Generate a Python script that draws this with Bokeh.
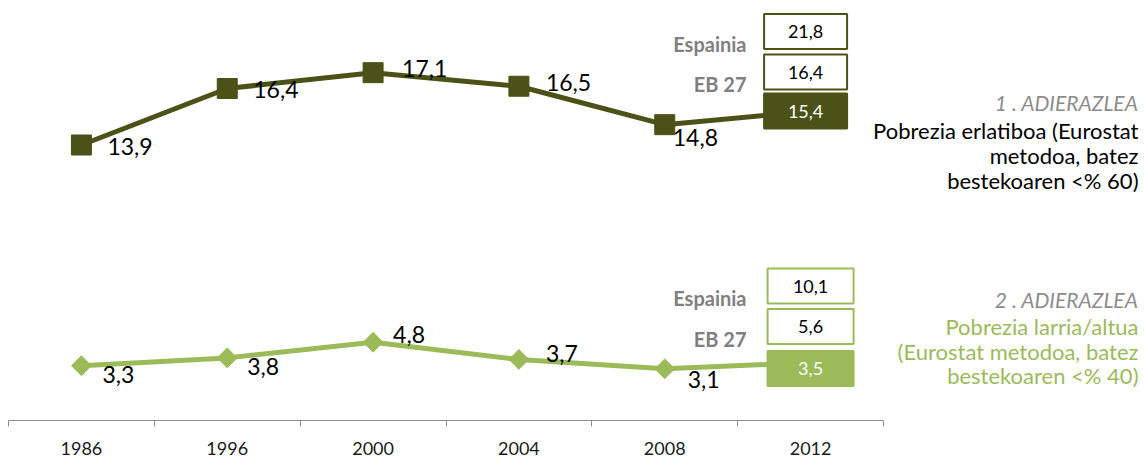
from bokeh.plotting import figure
from bokeh.models import Range1d, FixedTicker, ColumnDataSource
from bokeh.core.properties import value
from bokeh.embed import file_html
from bokeh.resources import INLINE
import math

# ---------------- data ----------------
years = ["1986", "1996", "2000", "2004", "2008", "2012"]
relative_poverty = [13.9, 16.4, 17.1, 16.5, 14.8, 15.4]   # 1. adierazlea
severe_poverty = [3.3, 3.8, 4.8, 3.7, 3.1, 3.5]           # 2. adierazlea
spain_2012 = [21.8, 10.1]      # Espainia (ind.1, ind.2)
eu27_2012 = [16.4, 5.6]        # EB 27 (ind.1, ind.2)
box_row_names = ["Espainia", "EB 27"]
indicator_titles = ["1 . ADIERAZLEA", "2 . ADIERAZLEA"]
indicator_texts = [
    ["Pobrezia erlatiboa (Eurostat", "metodoa, batez", "bestekoaren <% 60)"],
    ["Pobrezia larria/altua", "(Eurostat metodoa, batez", "bestekoaren <% 40)"],
]

def fmt(v):
    return f"{v:.1f}".replace(".", ",")

# ---------------- styles / layout ----------------
DARK = "#4A5218"
LIGHT = "#9BBB59"
GRAY = "#808080"
FONT = "Lato"

W, H = 1143, 460
FRAME_LEFT, FRAME_TOP, FRAME_H = 8, 8, 412
FRAME_BOTTOM = FRAME_TOP + FRAME_H
AXIS_W = 875                       # width of the category axis
PX_X = AXIS_W / len(years)
FRAME_W = W - FRAME_LEFT

y_low = Range1d(-0.20, 26.12)
y_top = Range1d(1.71, 19.94)

p = figure(width=W, height=H, output_backend="svg", toolbar_location=None,
           x_range=Range1d(0, FRAME_W / PX_X), y_range=y_low,
           min_border_left=FRAME_LEFT, min_border_right=0,
           min_border_top=FRAME_TOP, min_border_bottom=H - FRAME_BOTTOM,
           x_axis_location="below", y_axis_location=None)
p.extra_y_ranges = {"top": y_top}
p.outline_line_color = None
p.xgrid.visible = False
p.ygrid.visible = False

xs = [i + 0.5 for i in range(len(years))]

# axis: labels at category centres, tick marks at category boundaries
ax = p.xaxis[0]
ax.bounds = (0, len(years))
ax.ticker = FixedTicker(ticks=xs, minor_ticks=list(range(len(years) + 1)))
ax.major_label_overrides = {x: y for x, y in zip(xs, years)}
ax.major_tick_in = 0
ax.major_tick_out = 0
ax.minor_tick_in = 0
ax.minor_tick_out = 6
ax.minor_tick_line_color = "#8C8C8C"
ax.axis_line_color = "#8C8C8C"
ax.axis_line_width = 1.2
ax.major_label_text_font = FONT
ax.major_label_text_font_size = "18px"
ax.major_label_text_color = "#1a1a1a"
ax.major_label_standoff = 15


def page_to_y(rng, page_y):
    return rng.start + (FRAME_BOTTOM - page_y) / FRAME_H * (rng.end - rng.start)


def shift_y(rng, yv, px_up):
    return yv + px_up * (rng.end - rng.start) / FRAME_H


def page_to_x(page_x):
    return (page_x - FRAME_LEFT) / PX_X


# ---------------- lines ----------------
src_top = ColumnDataSource(dict(x=xs, y=relative_poverty,
                                lab=[fmt(v) for v in relative_poverty],
                                dx=[26, 26, 29, 27, 8, 0], dy=[1, 1, -4, -4, 13, 0]))
src_low = ColumnDataSource(dict(x=xs, y=severe_poverty,
                                lab=[fmt(v) for v in severe_poverty],
                                dx=[21, 20, 20, 27, 23, 0], dy=[9, 9, -8, -6, 11, 0]))

p.line("x", "y", source=src_top, y_range_name="top", line_color=DARK, line_width=5)
p.scatter("x", "y", source=src_top, y_range_name="top", marker="square", size=20,
          fill_color=DARK, line_color=DARK)
p.line("x", "y", source=src_low, line_color=LIGHT, line_width=5)
p.scatter("x", "y", source=src_low, marker="square", size=14, angle=math.pi / 4,
          fill_color=LIGHT, line_color=LIGHT)

# data labels (except last, shown in box)
n = len(years) - 1
lab_top = ColumnDataSource({k: v[:n] for k, v in src_top.data.items()})
lab_low = ColumnDataSource({k: v[:n] for k, v in src_low.data.items()})
for s, rn in ((lab_top, "top"), (lab_low, "default")):
    p.text("x", "y", text="lab", source=s, y_range_name=rn, x_offset="dx", y_offset="dy",
           text_font=value(FONT), text_font_size="23px", text_color="black",
           text_align="left", text_baseline="middle")

# ---------------- boxes for 2012 ----------------
last_x = xs[-1]
configs = [
    ("top", y_top, DARK, relative_poverty[-1], spain_2012[0], eu27_2012[0], 83, -5, (0, 39, 79.5)),
    ("default", y_low, LIGHT, severe_poverty[-1], spain_2012[1], eu27_2012[1], 86, 0, (-6, 36, 76.5)),
]
for rname, rng, col, last, spain, eu, bw, xs_px, (s_fill, s_eu, s_sp) in configs:
    bx = last_x + xs_px / PX_X
    ys = [shift_y(rng, last, s_sp), shift_y(rng, last, s_eu), shift_y(rng, last, s_fill)]
    vals = [spain, eu, last]
    src = ColumnDataSource(dict(x=[bx] * 3, y=ys, lab=[fmt(v) for v in vals],
                                fill=["white", "white", col], tc=["black", "black", "white"]))
    p.rect("x", "y", width=bw, height=35, width_units="screen", height_units="screen",
           source=src, y_range_name=rname, fill_color="fill", line_color=col, line_width=2)
    p.text("x", "y", text="lab", source=src, y_range_name=rname, text_color="tc",
           text_font=value(FONT), text_font_size="18px", text_align="center",
           text_baseline="middle")
    nsrc = ColumnDataSource(dict(x=[page_to_x(746)] * 2, y=ys[:2], lab=box_row_names))
    p.text("x", "y", text="lab", source=nsrc, y_range_name=rname, y_offset=12,
           text_font=value(FONT), text_font_size="20px", text_font_style="bold",
           text_color=GRAY, text_align="right", text_baseline="middle")

# ---------------- right side texts ----------------
right_x = page_to_x(1138)
blocks = [
    (indicator_titles[0], indicator_texts[0], "black", [102, 130, 155, 180]),
    (indicator_titles[1], indicator_texts[1], LIGHT, [299, 326, 351, 375]),
]
for title, lines, col, pys in blocks:
    p.text([right_x], [page_to_y(y_low, pys[0])], text=[title],
           text_font=value(FONT), text_font_size="21px", text_font_style="italic",
           text_color="#8C8C8C", text_align="right", text_baseline="middle")
    p.text([right_x] * len(lines), [page_to_y(y_low, py) for py in pys[1:]], text=lines,
           text_font=value(FONT), text_font_size="22px",
           text_color=col, text_align="right", text_baseline="middle")

open("out.html", "w").write(file_html(p, INLINE))
